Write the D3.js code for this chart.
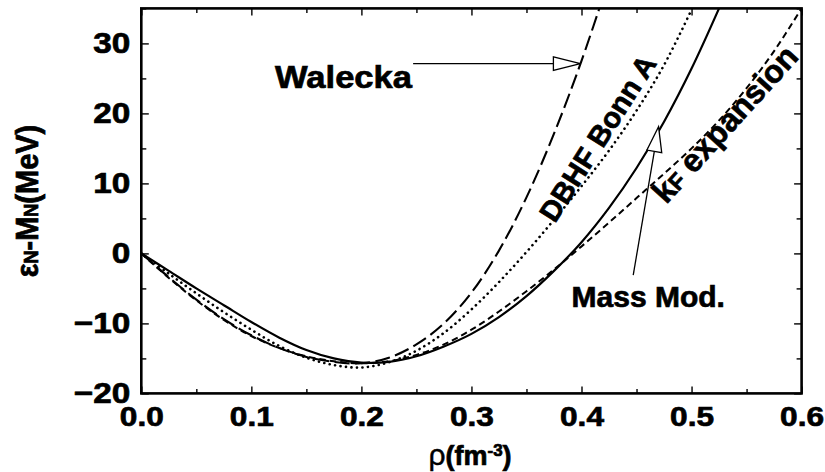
<!DOCTYPE html>
<html>
<head>
<meta charset="utf-8">
<script src="https://cdn.jsdelivr.net/npm/d3@7"></script>
<style>
  body { margin: 0; background: #fff; }
  svg { display: block; }
  text { font-family: "Liberation Sans", Arial, Helvetica, sans-serif; font-weight: bold; fill: #000; stroke: #000; stroke-width: 0.7px; }
</style>
</head>
<body>
<svg id="chart" width="825" height="472"></svg>
<script>
// density grid (fm^-3) and binding energies (MeV)
const rhoMass = [0, 0.025, 0.05, 0.075, 0.1, 0.125, 0.15, 0.175, 0.2, 0.225, 0.25, 0.275, 0.3, 0.325, 0.35, 0.375, 0.4, 0.425, 0.45, 0.475, 0.5, 0.525];
const eMass   = [0, -2.5, -5.0, -7.4, -9.8, -12.0, -13.8, -15.0, -15.6, -15.5, -14.7, -13.3, -11.5, -9.1, -6.1, -2.5, 1.6, 6.5, 12.2, 18.8, 26.4, 35.0];

const rhoDbhf = [0, 0.025, 0.05, 0.075, 0.1, 0.125, 0.15, 0.175, 0.2, 0.225, 0.25, 0.275, 0.3, 0.325, 0.35, 0.375, 0.4, 0.425, 0.45, 0.475, 0.5];
const eDbhf   = [0, -2.9, -5.7, -8.4, -10.9, -13.2, -14.9, -15.95, -16.3, -15.55, -13.9, -11.35, -8.0, -4.1, 0.2, 4.8, 9.6, 14.7, 20.4, 26.9, 34.8];

const rhoKf = [0, 0.025, 0.05, 0.075, 0.1, 0.125, 0.15, 0.175, 0.2, 0.225, 0.25, 0.275, 0.3, 0.325, 0.35, 0.375, 0.4, 0.425, 0.45, 0.475, 0.5, 0.525, 0.55, 0.575, 0.6];
const eKf   = [0, -3.5, -6.7, -9.5, -11.8, -13.5, -14.7, -15.4, -15.7, -15.4, -14.5, -13.0, -10.9, -8.3, -5.4, -2.3, 1.0, 4.4, 7.9, 11.4, 15.0, 19.0, 23.6, 28.9, 35.0];

const rhoWal = [0, 0.025, 0.05, 0.075, 0.1, 0.125, 0.15, 0.175, 0.2, 0.225, 0.25, 0.275, 0.3, 0.325, 0.35, 0.375, 0.4, 0.425];
const eWal   = [0, -3.4, -6.6, -9.4, -11.7, -13.5, -14.8, -15.5, -15.7, -14.9, -13.0, -10.0, -5.6, 0.4, 8.0, 17.1, 27.5, 39.2];

const xTicks = [0, 0.1, 0.2, 0.3, 0.4, 0.5, 0.6];
const xMinor = [0.05, 0.15, 0.25, 0.35, 0.45, 0.55];
const yTicks = [-20, -10, 0, 10, 20, 30];
const yMinor = [-15, -5, 5, 15, 25, 35];

// annotations, in data coordinates
const walArrow  = [[0.247, 27.1], [0.399, 27.1]];
const massArrow = [[0.447, -3.1], [0.470, 18.1]];

const svg = d3.select('#chart');
const x = d3.scaleLinear().domain([0, 0.6]).range([141.3, 801.6]);
const y = d3.scaleLinear().domain([-20, 35]).range([393.4, 8.4]);
const W = 801.6 - 141.3, H = 393.4 - 8.4;

svg.append('defs').append('clipPath').attr('id', 'plot')
    .append('rect').attr('x', 141.3).attr('y', 8.4).attr('width', W).attr('height', H);

const curves = [
    {rho: rhoWal,  e: eWal,  dash: '15 5.5',  cap: 'butt',  w: 2.1},
    {rho: rhoDbhf, e: eDbhf, dash: '0.1 5.4', cap: 'round', w: 2.6},
    {rho: rhoMass, e: eMass, dash: null,      cap: 'butt',  w: 2.2},
    {rho: rhoKf,   e: eKf,   dash: '6.5 4',   cap: 'butt',  w: 2.0}
];

const line = d3.line()
    .x(d => x(d[0]))
    .y(d => y(d[1]))
    .curve(d3.curveCatmullRom.alpha(0.5));

svg.append('g').attr('clip-path', 'url(#plot)')
    .selectAll('path.curve')
    .data(curves)
    .join('path')
    .attr('class', 'curve')
    .attr('d', c => line(c.rho.map((r, i) => [r, c.e[i]])))
    .attr('fill', 'none')
    .attr('stroke', '#000')
    .attr('stroke-width', c => c.w)
    .attr('stroke-linecap', c => c.cap)
    .attr('stroke-dasharray', c => c.dash);

// axes with inward ticks on all four sides
const fmtX = d3.format('.1f');
const sx = 1.13;
function styleAxis(g) {
    g.select('.domain').remove();
    g.selectAll('line').attr('stroke', '#000').attr('stroke-width', 1.4);
}
svg.append('g').attr('transform', `translate(0,${y(-20)})`)
    .call(d3.axisBottom(x).tickValues(xTicks).tickSize(-7).tickPadding(12.5).tickFormat(fmtX))
    .call(styleAxis)
    .selectAll('text')
    .attr('font-size', 28).attr('font-family', null).attr('fill', null).attr('transform', `scale(${sx},1)`);
svg.append('g').attr('transform', `translate(0,${y(-20)})`)
    .call(d3.axisBottom(x).tickValues(xMinor).tickSize(-4.5).tickFormat(''))
    .call(styleAxis);
svg.append('g').attr('transform', `translate(0,${y(35)})`)
    .call(d3.axisTop(x).tickValues(xTicks).tickSize(-7).tickFormat(''))
    .call(styleAxis);
svg.append('g').attr('transform', `translate(0,${y(35)})`)
    .call(d3.axisTop(x).tickValues(xMinor).tickSize(-4.5).tickFormat(''))
    .call(styleAxis);
svg.append('g').attr('transform', `translate(${x(0)},0)`)
    .call(d3.axisLeft(y).tickValues(yTicks).tickSize(-7.5).tickPadding(9.7))
    .call(styleAxis)
    .selectAll('text')
    .attr('font-size', 29.5).attr('font-family', null).attr('fill', null).attr('transform', `scale(${sx},1)`);
svg.append('g').attr('transform', `translate(${x(0)},0)`)
    .call(d3.axisLeft(y).tickValues(yMinor).tickSize(-5))
    .call(styleAxis).selectAll('text').remove();
svg.append('g').attr('transform', `translate(${x(0.6)},0)`)
    .call(d3.axisRight(y).tickValues(yTicks).tickSize(-7.5).tickFormat(''))
    .call(styleAxis);
svg.append('g').attr('transform', `translate(${x(0.6)},0)`)
    .call(d3.axisRight(y).tickValues(yMinor).tickSize(-5).tickFormat(''))
    .call(styleAxis);

svg.append('rect')
    .attr('x', 141.3).attr('y', 8.4).attr('width', W).attr('height', H)
    .attr('fill', 'none').attr('stroke', '#000').attr('stroke-width', 2.6);

// axis titles
const yt = svg.append('text')
    .attr('transform', `translate(38,201) rotate(-90) scale(1,1.08)`)
    .attr('text-anchor', 'middle')
    .attr('font-size', 29);
yt.append('tspan').text('ε');
yt.append('tspan').attr('font-size', 18).text('N');
yt.append('tspan').text('-M');
yt.append('tspan').attr('font-size', 18).text('N');
yt.append('tspan').text('(MeV)');

const xt = svg.append('text')
    .attr('x', 470).attr('y', 465)
    .attr('text-anchor', 'middle')
    .attr('font-size', 27);
xt.append('tspan').attr('font-weight', 'normal').attr('stroke-width', 0.4).attr('font-size', 30).text('ρ');
xt.append('tspan').text('(fm');
xt.append('tspan').attr('font-size', 17).attr('dy', -9).text('-3');
xt.append('tspan').attr('dy', 9).text(')');

// curve labels
svg.append('text')
    .attr('transform', `translate(${x(0.1215)},${y(23.6)}) scale(1.08,1)`)
    .attr('font-size', 32).text('Walecka');

svg.append('text')
    .attr('transform', `translate(${x(0.376)},${y(4.2)}) rotate(-57.5)`)
    .attr('font-size', 29).text('DBHF Bonn A');

const kt = svg.append('text')
    .attr('transform', `translate(${x(0.477)},${y(6.9)}) rotate(-47.8)`)
    .attr('font-size', 32);
kt.append('tspan').text('k');
kt.append('tspan').attr('font-size', 23).text('F');
kt.append('tspan').text(' expansion');

svg.append('text')
    .attr('x', x(0.391)).attr('y', y(-7.6))
    .attr('font-size', 30).text('Mass Mod.');

// open-headed arrows
function arrow(pts, headLen, headHalf) {
    const [p0, p1] = pts.map(p => [x(p[0]), y(p[1])]);
    const dx = p1[0] - p0[0], dy = p1[1] - p0[1];
    const L = Math.hypot(dx, dy), ux = dx / L, uy = dy / L;
    const bx = p1[0] - ux * headLen, by = p1[1] - uy * headLen;
    svg.append('line')
        .attr('x1', p0[0]).attr('y1', p0[1]).attr('x2', bx).attr('y2', by)
        .attr('stroke', '#000').attr('stroke-width', 1.3);
    svg.append('polygon')
        .attr('points', [[p1[0], p1[1]], [bx - uy * headHalf, by + ux * headHalf], [bx + uy * headHalf, by - ux * headHalf]].join(' '))
        .attr('fill', '#fff').attr('stroke', '#000').attr('stroke-width', 1.3);
}
arrow(walArrow, 27, 6.8);
arrow(massArrow, 25, 7.5);
</script>
</body>
</html>
